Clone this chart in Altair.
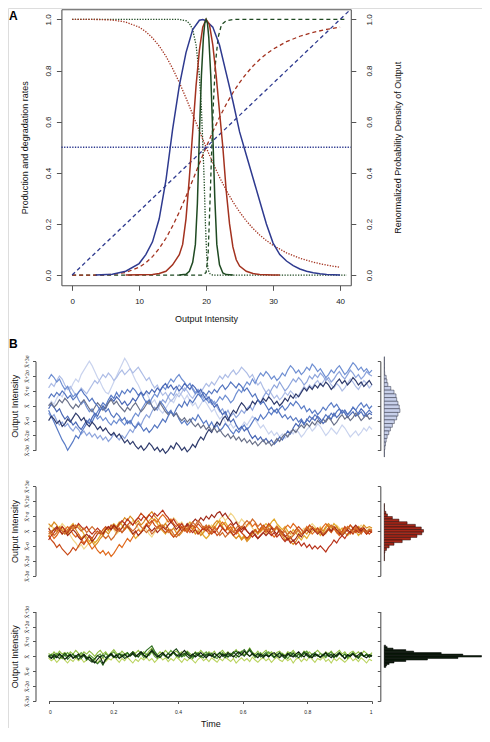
import json
import altair as alt
import numpy as np
import pandas as pd

W, H = 474, 720
SANS = "Liberation Sans"
SERIF = "Liberation Serif"
FRAME = "#555555"

# ---------------- Panel A : rate curves (dotted = degradation, dashed = production) ----------------
RDOT_X = [0, 2, 4, 6, 8, 10, 11, 12, 13, 14, 15, 16, 17, 18, 19, 20, 21, 22, 23, 24, 25, 26, 27, 28, 29, 30, 32, 34, 36, 38, 40]
RDOT_Y = [1.0, 1.0, 0.9997, 0.9976, 0.9899, 0.9697, 0.9521, 0.9278, 0.896, 0.8561, 0.8082, 0.7532, 0.6927, 0.6287,
          0.5638, 0.5, 0.4393, 0.383, 0.3321, 0.2867, 0.2468, 0.2122, 0.1824, 0.1568, 0.135, 0.1164, 0.0871, 0.0658,
          0.0503, 0.0388, 0.0303]
RDASH_X = RDOT_X
RDASH_Y = [0.0, 0.0, 0.0003, 0.0024, 0.0101, 0.0303, 0.0479, 0.0722, 0.104, 0.1439, 0.1918, 0.2468, 0.3073, 0.3713,
           0.4362, 0.5, 0.5607, 0.617, 0.6679, 0.7133, 0.7532, 0.7878, 0.8176, 0.8432, 0.865, 0.8836, 0.9129, 0.9342,
           0.9497, 0.9612, 0.9697]
GDOT_X = [0, 16, 17, 17.5, 18, 18.5, 19, 19.3, 19.5, 19.7, 19.9, 20.1, 20.3, 20.6, 21, 41]
GDOT_Y = [1, 1, 0.995, 0.985, 0.96, 0.9, 0.78, 0.65, 0.52, 0.38, 0.2, 0.07, 0.02, 0.005, 0, 0]
GDASH_X = [0, 19.5, 20, 20.3, 20.6, 20.85, 21.1, 21.4, 21.8, 22.3, 23, 24, 41]
GDASH_Y = [0, 0, 0.01, 0.08, 0.3, 0.5, 0.68, 0.83, 0.93, 0.98, 0.995, 1, 1]
BDOT_X = [-1.6, 41.6]
BDOT_Y = [0.5, 0.5]
BDASH_X = [0, 41.6]
BDASH_Y = [0, 1.04]

# ---------------- Panel A : renormalized output densities (solid) ----------------
DB_X = [3.5, 6, 8, 10, 11, 12, 13, 14, 15, 16, 17, 18, 19, 19.5, 20, 21, 22, 23, 24, 25, 26, 27, 28, 29, 30, 31,
        32, 33, 34, 35, 36, 37, 38, 40]
DB_Y = [0, 0.003, 0.015, 0.045, 0.08, 0.13, 0.22, 0.37, 0.57, 0.74, 0.87, 0.96, 0.997, 1.0, 0.995, 0.97, 0.9, 0.79,
        0.68, 0.56, 0.47, 0.38, 0.29, 0.2, 0.125, 0.08, 0.055, 0.037, 0.024, 0.015, 0.009, 0.005, 0.002, 0]
DR_X = [8, 12, 13, 14, 15, 16, 16.5, 17, 17.5, 18, 18.5, 19, 19.5, 20, 20.5, 21, 21.5, 22, 22.5, 23, 23.5, 24, 24.5,
        25, 26, 27, 28, 30, 31]
DR_Y = [0, 0.002, 0.006, 0.015, 0.04, 0.08, 0.12, 0.22, 0.38, 0.56, 0.74, 0.88, 0.97, 1.0, 0.98, 0.9, 0.78, 0.64,
        0.5, 0.33, 0.2, 0.11, 0.06, 0.035, 0.015, 0.006, 0.002, 0.0005, 0]
DG_X = [16, 17, 17.5, 18, 18.4, 18.7, 19, 19.3, 19.6, 19.8, 20, 20.2, 20.4, 20.7, 21, 21.3, 21.6, 22, 22.5, 23, 24]
DG_Y = [0, 0.003, 0.015, 0.05, 0.12, 0.28, 0.55, 0.78, 0.93, 0.985, 1.0, 0.985, 0.93, 0.78, 0.55, 0.3, 0.12, 0.04,
        0.008, 0.002, 0]

A_TICKS_X = [0, 10, 20, 30, 40]
A_TICKS_Y = [0, 0.2, 0.4, 0.6, 0.8, 1.0]

# ---------------- Panel B1 trajectories (tenths of sigma) ----------------
B1_T1 = [0, 3, 1, 5, 8, 6, 10, 13, 11, 15, 18, 16, 21, 24, 27, 30, 27, 23, 19, 16,
         12, 9, 8, 12, 16, 20, 24, 28, 32, 29, 25, 21, 17, 14, 10, 7, 9, 5, 2, 4,
         0, -3, -5, -2, 1, 4, 2, 6, 9, 7, 4, 7, 3, 0, 2, -2, 1, 4, 2, -1,
         -4, -2, -6, -9, -7, -11, -14, -12, -15, -13, -16, -14, -11, -13, -10, -7, -9, -12, -15, -13,
         -16, -19, -17, -20, -18, -21, -19, -22, -20, -17, -19, -16, -18, -21, -19, -16, -14, -17, -15, -12,
         -14, -17, -20, -18, -15, -17, -19, -16, -13, -15, -18, -21, -19, -17, -20, -18, -15, -17, -14, -16]
B1_T2 = [12, 15, 13, 17, 20, 18, 14, 11, 13, 10, 7, 9, 12, 10, 8, 11, 14, 17, 15, 18,
         21, 19, 22, 20, 17, 19, 22, 24, 21, 23, 25, 22, 24, 26, 23, 20, 17, 19, 15, 12,
         14, 10, 7, 9, 6, 3, 5, 8, 6, 9, 12, 10, 7, 5, 8, 11, 9, 12, 15, 13,
         16, 14, 17, 20, 18, 21, 19, 22, 24, 21, 23, 26, 24, 22, 19, 21, 17, 14, 16, 12,
         9, 11, 8, 5, 7, 4, 6, 9, 7, 10, 8, 5, 7, 10, 13, 11, 14, 12, 15, 17,
         14, 16, 19, 17, 14, 12, 15, 13, 10, 12, 15, 18, 16, 13, 11, 14, 17, 15, 12, 14]
B1_T3 = [-5, -8, -6, -10, -13, -11, -14, -12, -15, -17, -14, -16, -19, -17, -20, -18, -21, -19, -22, -20,
         -23, -21, -24, -22, -19, -21, -23, -20, -22, -19, -16, -18, -14, -11, -13, -9, -6, -8, -4, -1,
         -3, 1, 4, 2, 6, 9, 7, 11, 14, 12, 10, 13, 15, 12, 9, 11, 8, 5, 7, 4,
         1, 3, -1, -4, -2, -6, -3, -7, -5, -8, -6, -3, -5, -2, 0, -3, 1, 4, 2, 6,
         9, 7, 11, 14, 12, 16, 13, 10, 12, 15, 18, 16, 19, 17, 14, 16, 20, 18, 21, 19,
         22, 20, 17, 19, 16, 18, 21, 23, 20, 18, 21, 24, 22, 19, 21, 18, 20, 23, 21, 20]
B1_T4 = [18, 21, 19, 16, 18, 14, 11, 13, 9, 6, 8, 4, 1, 3, -1, -4, -2, -6, -9, -7,
         -10, -8, -11, -13, -10, -12, -9, -11, -13, -10, -12, -8, -5, -7, -3, 0, 3, 1, 5, 8,
         6, 10, 13, 11, 15, 18, 16, 19, 21, 18, 16, 13, 15, 11, 8, 10, 6, 3, 5, 2,
         4, 1, 3, 6, 4, 7, 5, 2, 4, 8, 11, 9, 13, 16, 14, 18, 15, 19, 22, 20,
         23, 21, 18, 20, 17, 19, 22, 20, 24, 27, 25, 22, 24, 21, 23, 26, 24, 28, 26, 23,
         25, 22, 19, 21, 24, 22, 25, 27, 24, 21, 23, 26, 29, 27, 24, 26, 23, 25, 22, 24]
B1_T5 = [-3, -7, -11, -15, -19, -23, -26, -30, -27, -24, -20, -22, -18, -15, -12, -9, -11, -7, -4, -1,
         2, 0, 4, 7, 5, 9, 6, 10, 8, 11, 9, 12, 10, 7, 9, 5, 2, 4, 0, -3,
         -1, 3, 1, -2, -5, -3, -7, -5, -9, -12, -10, -13, -11, -8, -10, -6, -9, -12, -10, -14,
         -11, -15, -13, -17, -15, -12, -14, -17, -19, -16, -18, -15, -13, -16, -14, -11, -8, -10, -6, -9,
         -7, -4, -6, -3, -5, -2, 0, -3, -1, 2, 0, 3, 1, -2, 0, -4, -2, -5, -3, -6,
         -4, -1, -3, 0, 2, -1, 1, -2, -5, -3, -6, -4, -1, -3, 0, 2, -1, 1, -2, 0]
B1_T6 = [-2, 1, -1, -4, -2, -6, -9, -7, -10, -13, -11, -14, -16, -13, -10, -12, -8, -5, -7, -3,
         0, -2, 2, 5, 3, 6, 4, 1, 3, 0, 2, 5, 3, 6, 9, 7, 10, 8, 11, 9,
         12, 10, 13, 15, 12, 14, 11, 13, 10, 12, 15, 13, 11, 14, 12, 9, 11, 7, 4, 6,
         2, -1, 1, -3, -6, -4, -8, -11, -9, -13, -16, -14, -17, -15, -19, -22, -20, -23, -21, -24,
         -22, -25, -23, -26, -24, -21, -23, -20, -17, -19, -15, -12, -14, -10, -13, -9, -11, -8, -10, -7,
         -9, -12, -10, -7, -9, -5, -8, -6, -3, -5, -8, -6, -4, -7, -5, -2, -4, -7, -5, -6]
B1_T7 = [-10, -7, -9, -12, -10, -14, -12, -9, -11, -8, -5, -7, -10, -8, -12, -14, -11, -13, -16, -14,
         -17, -15, -18, -20, -18, -21, -19, -22, -25, -23, -26, -24, -27, -29, -27, -30, -28, -25, -27, -30,
         -28, -31, -29, -32, -30, -27, -29, -25, -27, -30, -28, -31, -29, -26, -28, -24, -21, -23, -19, -16,
         -18, -14, -11, -13, -9, -7, -10, -6, -3, -5, -1, 2, 0, -3, -1, 3, 1, 4, 2, 5,
         3, 6, 4, 1, 3, 0, 2, 5, 3, 7, 5, 8, 6, 9, 12, 10, 13, 11, 14, 12,
         15, 13, 16, 14, 11, 13, 16, 18, 15, 17, 14, 16, 19, 17, 14, 16, 13, 15, 17, 14]
B1_T8 = [0, 2, -1, 1, 4, 2, 5, 3, 0, -2, 1, -1, 2, 4, 1, -2, -4, -1, 2, 0,
         -3, -1, 2, 4, 1, 3, 0, -2, -4, -1, -3, 0, 2, -1, -4, -2, 1, 3, 0, -3,
         -1, 2, -1, -4, -6, -4, -7, -5, -8, -10, -8, -11, -9, -12, -14, -12, -15, -13, -16, -14,
         -17, -15, -18, -16, -19, -21, -19, -22, -20, -23, -21, -24, -22, -25, -23, -26, -24, -27, -25, -23,
         -26, -24, -27, -25, -22, -24, -21, -19, -21, -18, -16, -18, -15, -13, -15, -12, -14, -11, -13, -10,
         -12, -9, -11, -8, -10, -13, -11, -8, -6, -9, -7, -10, -8, -5, -7, -10, -8, -6, -9, -8]
B1_T9 = [5, 8, 6, 9, 7, 10, 8, 5, 7, 4, 6, 9, 11, 8, 6, 3, 5, 2, 0, -3,
         -1, -4, -2, -6, -8, -5, -7, -10, -8, -12, -10, -13, -15, -12, -14, -17, -15, -18, -16, -13,
         -15, -12, -9, -11, -7, -4, -6, -2, 1, -1, 3, 0, 4, 2, 5, 8, 6, 9, 7, 10,
         8, 11, 9, 12, 14, 11, 13, 16, 14, 12, 15, 13, 10, 12, 9, 6, 8, 4, 1, 3,
         0, -3, -1, -4, -2, -5, -8, -6, -9, -7, -10, -8, -11, -9, -12, -10, -7, -9, -6, -8,
         -11, -9, -6, -8, -5, -7, -4, -2, -5, -3, -6, -4, -1, -3, -6, -4, -7, -5, -3, -5]

# ---------------- Panel B2 trajectories (tenths of sigma) ----------------
B2_T1 = [2, 4, 1, -1, 2, 5, 3, 0, -3, -6, -8, -11, -9, -12, -10, -7, -5, -8, -6, -3,
         -1, 2, 0, 3, 1, -2, 0, 3, 5, 2, 4, 7, 5, 2, 0, 3, 1, -2, -4, -1,
         1, 4, 2, 5, 8, 6, 9, 7, 4, 6, 3, 1, 4, 2, -1, 1, -2, 0, 3, 1,
         4, 2, 5, 8, 10, 7, 9, 12, 10, 7, 5, 8, 6, 3, 5, 2, 0, 2, -1, 1,
         -2, 0, 3, 1, 4, 2, -1, 1, -2, -4, -1, 1, -2, 0, 2, 0, 3, 5, 3, 1,
         3, 0, -2, 1, -1, 2, 4, 2, -1, 1, 3, 1, -2, 0, 2, 4, 2, 0, 2, 1]
B2_T2 = [-4, -1, 2, 0, 3, 1, -2, 0, 3, 5, 2, 4, 1, -2, -4, -7, -5, -8, -6, -3,
         -1, 2, 0, 3, 5, 3, 6, 4, 1, 3, 0, -2, -5, -3, -1, 2, 4, 7, 9, 7,
         5, 2, 0, -2, 1, -1, -4, -2, 1, 3, 1, 4, 6, 3, 1, -2, 0, -3, -5, -3,
         0, 2, 5, 7, 4, 6, 3, 1, 3, 0, -2, -5, -3, -6, -4, -1, 1, -2, 0, 3,
         5, 3, 6, 8, 5, 3, 1, 3, 0, -2, 1, -1, -4, -6, -3, -5, -2, 0, 2, 0,
         -3, -1, 2, 4, 2, 5, 3, 0, 2, -1, -3, -1, 2, 0, -3, -1, 1, -2, 0, -1]
B2_T3 = [5, 3, 6, 4, 1, 3, 0, -2, 1, 3, 1, -2, -5, -3, -6, -9, -7, -10, -8, -5,
         -3, 0, -2, 1, 3, 1, 4, 6, 9, 7, 10, 8, 5, 7, 4, 6, 9, 11, 13, 10,
         8, 5, 3, 5, 2, 0, 2, -1, -3, -1, 2, 0, 3, 1, -2, 0, -3, -1, 2, 4,
         2, 5, 7, 5, 3, 0, 2, -1, -3, -5, -3, -6, -4, -7, -5, -2, 0, -2, 1, 3,
         1, 4, 2, 0, 2, -1, -3, -6, -4, -7, -9, -7, -4, -2, 0, -2, 1, 3, 1, -1,
         2, 0, 3, 5, 3, 1, 3, 0, -2, 0, 2, 4, 2, 0, 3, 1, 4, 2, 3, 2]
B2_T4 = [0, -2, -5, -3, 0, -2, 1, 3, 1, -2, -4, -2, -5, -8, -6, -9, -12, -10, -13, -15,
         -13, -16, -14, -17, -15, -12, -9, -11, -8, -5, -7, -4, -1, 1, -1, 2, 5, 3, 6, 8,
         6, 9, 11, 9, 6, 8, 5, 3, 5, 2, 0, 2, -1, 1, 4, 2, 0, 3, 1, -2,
         0, 3, 1, 4, 6, 4, 1, 3, 0, -2, 0, 3, 1, 4, 6, 3, 5, 2, 0, 2,
         -1, 1, -2, -4, -2, 1, -1, 2, 4, 2, 5, 3, 0, -2, 0, 3, 1, -2, 0, 2,
         0, 3, 5, 3, 0, 2, -1, -3, -1, 2, 0, -2, 1, 3, 1, -1, 1, -2, 0, 1]
B2_T5 = [-3, -6, -8, -11, -9, -12, -14, -16, -14, -11, -13, -10, -7, -9, -6, -3, -5, -2, 0, -2,
         1, 3, 1, 4, 2, 0, 2, -1, 1, 4, 6, 4, 7, 9, 12, 10, 8, 5, 7, 4,
         2, 4, 1, -1, 1, -2, -4, -2, 0, 3, 1, -1, 2, 4, 2, 5, 3, 1, 3, 0,
         -2, 0, -3, -1, 2, 0, 3, 5, 3, 0, 2, -1, -3, -5, -3, -1, 1, -1, 2, 4,
         2, 5, 3, 1, 3, 0, -2, -4, -2, 0, -2, 1, 3, 1, -1, 1, 4, 2, 0, 2,
         -1, -3, -1, 1, -1, 2, 0, -2, 0, 3, 1, 4, 2, -1, 1, -1, 2, 0, -2, 0]
B2_T6 = [-6, -3, -1, 2, 0, 3, 1, -1, 2, 4, 2, 5, 3, 1, 3, 0, -2, 0, 2, 0,
         -2, 1, 3, 1, 4, 2, 5, 7, 5, 8, 6, 4, 7, 9, 7, 10, 8, 11, 9, 12,
         10, 12, 14, 11, 9, 6, 8, 5, 3, 5, 2, 4, 1, -1, 1, -2, 0, 2, 0, 3,
         1, -1, 1, 4, 2, 0, -2, 0, -3, -1, 1, -1, 2, 0, -2, -4, -2, -5, -3, -1,
         1, -1, -3, -1, -4, -2, -5, -7, -5, -8, -6, -9, -7, -10, -8, -11, -9, -12, -10, -12,
         -10, -12, -14, -11, -9, -6, -8, -5, -3, -5, -2, 0, -2, 1, -1, 2, 0, -2, 0, -1]
B2_T7 = [2, -1, 1, 3, 1, -2, 0, -3, -1, 1, -1, -4, -6, -4, -2, -4, -7, -5, -2, 0,
         -2, 1, 3, 1, 4, 2, 0, 2, 5, 3, 1, -2, 0, -3, -1, 1, 4, 2, 0, 2,
         -1, 1, 3, 1, 4, 6, 4, 1, 3, 0, 2, 5, 3, 6, 8, 6, 9, 7, 10, 8,
         11, 9, 12, 13, 10, 12, 9, 7, 4, 6, 3, 1, 3, 0, -2, 0, -3, -5, -3, -1,
         -3, -1, 2, 0, -2, 1, -1, -3, -6, -4, -7, -5, -2, -4, -1, 1, -1, 2, 0, -2,
         0, -3, -1, 2, 0, 3, 1, -1, -3, -1, 1, -1, 2, 4, 2, 0, 2, -1, 1, 0]
B2_T8 = [-2, 0, -3, -1, 2, 0, -2, 1, 3, 1, 4, 2, 0, 2, -1, 1, 3, 1, -2, 0,
         -3, -5, -3, -6, -4, -1, 1, -1, 2, 4, 2, 0, 2, 5, 3, 1, -1, 1, -2, 0,
         3, 1, 4, 2, -1, 1, -2, -4, -2, 0, 3, 1, 4, 6, 4, 7, 5, 2, 4, 1,
         -1, 2, 0, -3, -1, -4, -2, 1, -1, 2, 4, 2, 5, 7, 5, 8, 6, 3, 5, 2,
         0, 2, -1, 1, 3, 1, -2, 0, -3, -5, -3, -1, 1, -2, 0, 2, 0, 3, 1, -1,
         1, -2, 0, 2, 4, 2, -1, 1, -2, 0, 3, 1, -1, 2, 0, -2, 1, -1, 1, 0]

# ---------------- Panel B3 trajectories (hundredths of sigma) ----------------
B3_T1 = [-10, -30, -15, -40, -20, -5, -25, -45, -20, -35, -10, -30, -15, -40, -25, -5, -30, -15, -45, -20,
         -10, -35, -15, -25, 0, -20, -40, -15, -30, -5, -25, -45, -20, -35, -10, -25, -5, -30, -15, -40,
         -20, 0, -25, -10, -35, -15, -30, -5, -20, -40, -15, -30, -10, -25, -45, -20, -5, -30, -15, -35,
         -10, -25, -40, -15, -30, -5, -20, -35, -15, -45, -25, -10, -30, -15, -35, -5, -25, -40, -20, -10,
         -30, -15, -40, -20, -5, -25, -35, -10, -30, -15, -45, -20, -10, -35, -15, -30, 0, -20, -40, -15,
         -25, -5, -35, -20, -45, -15, -30, -10, -25, -40, -20, -5, -30, -15, -35, -10, -25, -45, -20, -30]
B3_T2 = [20, 5, 30, 10, 35, 15, 25, 0, 30, 15, 40, 20, 5, 30, 15, 35, 20, 0, 25, 40,
         15, 30, 5, 25, 45, 20, 10, 35, 15, 25, 5, 30, 20, 40, 15, 30, 10, 35, 55, 25,
         10, 30, 15, 40, 20, 5, 25, 35, 15, 30, 10, 35, 20, 5, 30, 15, 40, 20, 10, 30,
         15, 35, 5, 25, 40, 15, 30, 10, 25, 45, 20, 35, 10, 30, 55, 25, 15, 35, 5, 25,
         40, 15, 30, 10, 25, 35, 15, 5, 30, 20, 40, 15, 25, 5, 35, 20, 30, 10, 25, 40,
         20, 5, 30, 15, 35, 10, 25, 40, 15, 30, 5, 25, 35, 15, 30, 10, 35, 20, 5, 25]
B3_T3 = [0, 15, -10, 20, 5, -15, 10, 25, 0, 15, -10, 5, 25, 5, -15, 10, -5, -20, 5, 15,
         -10, 20, 0, 15, 30, 5, -10, 15, 0, 20, 5, 30, 10, -5, 20, -10, 15, 5, 30, 0,
         -15, 10, 25, 0, 15, 40, 20, 5, -10, 15, 0, 20, 5, -15, 10, 25, 0, 15, 30, 5,
         20, -5, -15, 10, 25, 5, -5, 20, 5, -10, 15, 30, 5, 20, 0, 15, -10, 5, 25, 0,
         15, 30, 5, -10, 15, 0, 20, 5, -15, 10, 25, 0, 15, -5, 20, 35, 10, -5, 15, 0,
         20, 5, -10, 15, 30, 5, -5, 20, 0, 15, -15, 10, 25, 5, -5, 20, 0, 15, 5, 10]
B3_T4 = [-5, 10, -15, 5, 20, -5, 10, -20, 0, 15, -10, 5, -15, 5, -25, -5, -20, -35, -50, -30,
         -60, -25, -5, 10, -10, 5, 20, -5, 10, 25, 0, 15, -5, 10, 30, 15, 40, 55, 70, 35,
         10, -5, 15, 0, -15, 10, 25, 0, 15, -5, 10, 30, 10, -5, 5, 20, 0, -10, 15, 5,
         20, -5, 10, 25, 5, -10, 15, 0, 20, 35, 15, 30, 45, 20, 50, 25, 5, 15, -5, 10,
         25, 0, 15, -10, 5, 20, 0, -15, 10, 25, 5, -5, 15, 0, 20, 5, -10, 10, 25, 5,
         -5, 15, 0, 20, 5, -10, 10, 25, 0, 15, -5, 10, 20, 0, -15, 10, 0, 15, -5, 5]
B3_T5 = [10, -10, 15, 0, -15, 5, 20, 0, 15, -10, 5, -20, 0, 15, -5, -25, -40, -15, 5, -5,
         10, -10, 5, 20, 0, -10, 15, 5, -15, 0, 15, 30, 10, -5, 20, 5, -10, 15, 45, 20,
         5, -10, 15, 0, 20, 5, 35, 50, 25, 5, 20, 0, -15, 10, 25, 5, -5, 15, 0, 20,
         5, -10, 10, 25, 0, 15, -5, 10, 30, 10, -5, 15, 0, 25, 40, 15, 0, 20, 5, -10,
         10, 0, 15, -5, 10, 25, 5, -10, 15, 0, 20, 5, -10, 10, 30, 10, -5, 15, 0, 10,
         -10, 5, 20, 0, 15, -5, 10, 25, 5, -15, 10, 0, 20, 5, -10, 15, 0, 10, -5, 5]
B3_T6 = [0, -15, 5, -10, 15, 0, -20, -5, 10, -15, 0, 15, -5, 10, -15, -5, -30, -45, -20, 0,
         -50, -20, 0, 15, -5, 10, -15, 0, 15, -5, 5, 20, 0, 15, 30, 10, -5, 20, 35, 15,
         -5, 10, 25, 5, -10, 15, 30, 10, 0, 20, 40, 15, 0, 15, -5, 10, 25, 5, -10, 10,
         0, 20, 5, -10, 15, 0, 25, 10, -5, 15, 30, 10, 35, 15, 0, 20, 5, -10, 15, 0,
         10, -5, 15, 25, 5, -10, 10, 0, 20, 5, -5, 15, 30, 10, -5, 20, 0, -10, 15, 5,
         -5, 10, 25, 5, -10, 15, 0, 20, 5, -15, 10, 0, 15, -5, 10, 25, 0, -10, 10, 0]

# ---------------- Panel B : histograms (bar lengths, top bin first) ----------------
B1_HIST = [0.3, 0.3, 0.3, 0.3, 0.5, 2, 2.7, 3.7, 6.7, 10, 12, 12.7, 14, 15.3, 16, 14, 12.7, 10.3, 8.3, 6.3, 4.7, 3, 2, 1.3, 0.7, 0.3, 0.3]
B1_HIST_TOP, B1_HIST_BIN = 3.30, 0.25
B2_HIST = [0.3, 0.3, 0.3, 1.7, 3.3, 8.3, 15, 23.3, 31.7, 37.7, 40, 38.3, 33.3, 26.7, 18.3, 10, 5, 2.3, 0.7, 0.3, 0.3, 0.3]
B2_HIST_TOP, B2_HIST_BIN = 1.85, 0.175
B3_HIST = [1.5, 3, 9, 22, 30, 58, 80, 99, 75, 44, 22, 10, 5, 2.5, 1.5]
B3_HIST_TOP, B3_HIST_BIN = 0.75, 0.1

SIGMA_TICKS = [-3, -2, -1, 0, 1, 2, 3]
SIGMA_LABELS = ["X\u0304-3\u03c3", "X\u0304-2\u03c3", "X\u0304-\u03c3", "X\u0304", "X\u0304+\u03c3", "X\u0304+2\u03c3", "X\u0304+3\u03c3"]
TIME_TICKS = [0, 0.2, 0.4, 0.6, 0.8, 1]

# ---------------- styles ----------------
A_BLUE, A_RED, A_GREEN = "#2e3a8f", "#a3321f", "#1f4a22"
RATE_NAMES = ["green dotted", "green dashed", "red dotted", "red dashed", "blue dotted", "blue dashed"]
RATE_COLORS = [A_GREEN, A_GREEN, A_RED, A_RED, A_BLUE, A_BLUE]
DOT, DASH = [1.3, 1.4], [4, 3]
RATE_DASH = [DOT, DASH, DOT, DASH, DOT, DASH]
DENS_NAMES = ["blue", "red", "green"]
DENS_COLORS = [A_BLUE, A_RED, A_GREEN]

B1_NAMES = ["b1", "b2", "b3", "b4", "b5", "b6", "b7", "b8", "b9"]
B1_COLORS = ["#c9d3ee", "#aebde6", "#8ea5dc", "#6f8fd2", "#5a7cc6", "#4b69b6", "#2f3b6c", "#6a7189", "#5576c0"]
B2_NAMES = ["o1", "o2", "o3", "o4", "o5", "o6", "o7", "o8"]
B2_COLORS = ["#f2d588", "#e2a92c", "#d98a1e", "#e0691c", "#c94a18", "#b8321a", "#a02a18", "#cf6a2a"]
B3_NAMES = ["g1", "g2", "g3", "g4", "g5", "g6"]
B3_COLORS = ["#b9d35e", "#8fbd3e", "#5e9e32", "#2f6e22", "#1e4a18", "#0c1f0c"]

# pixel geometry of the panels inside the W x H drawing area
XA_RANGE, YA_RANGE = [53.4, 342.8], [277.3, 1.2]
XA_DOMAIN, YA_DOMAIN = [-1.6, 41.6], [-0.04, 1.04]
T_RANGE = [40.6, 364.0]
B_YRANGES = [[442.3, 353.2], [567.8, 478.3], [693.0, 603.6]]
B_AXIS_X = 27.5
HIST_AXIS_X = 372.3
HIST_RANGE = [376.2, 474.5]


def sc(domain, rng):
    return alt.Scale(domain=domain, range=rng, nice=False, zero=False)


def line_df(series):
    rows = []
    for name, xs, ys in series:
        for x, y in zip(xs, ys):
            rows.append({"x": x, "y": y, "s": name})
    return pd.DataFrame(rows)


def ts_df(names, traces, unit):
    rows = []
    for name, vals in zip(names, traces):
        n = len(vals)
        for i, v in enumerate(vals):
            rows.append({"t": i / (n - 1), "v": v / unit, "trace": name})
    return pd.DataFrame(rows)


def hist_df(counts, top, width):
    rows = []
    for i, c in enumerate(counts):
        hi = top - i * width
        rows.append({"count": c, "hi": hi, "lo": hi - width})
    return pd.DataFrame(rows)


AX = dict(grid=False, domainColor=FRAME, tickColor=FRAME, labelColor="#222222", titleColor="#111111",
          labelFont=SANS, titleFont=SANS, titleFontWeight="normal", domainWidth=1.1, tickWidth=1)

rates_df = line_df([
    ("green dotted", GDOT_X, GDOT_Y), ("green dashed", GDASH_X, GDASH_Y),
    ("red dotted", RDOT_X, RDOT_Y), ("red dashed", RDASH_X, RDASH_Y),
    ("blue dotted", BDOT_X, BDOT_Y), ("blue dashed", BDASH_X, BDASH_Y),
])
dens_df = line_df([("blue", DB_X, DB_Y), ("red", DR_X, DR_Y), ("green", DG_X, DG_Y)])

rates = alt.Chart(rates_df).mark_line(strokeWidth=1.3).encode(
    x=alt.X("x:Q", scale=sc(XA_DOMAIN, XA_RANGE),
            axis=alt.Axis(orient="bottom", offset=YA_RANGE[0] - H, values=A_TICKS_X, format="d", tickSize=5,
                          labelFontSize=8, labelPadding=7, title="Output Intensity", titleFontSize=9,
                          titlePadding=9, **AX)),
    y=alt.Y("y:Q", scale=sc(YA_DOMAIN, YA_RANGE),
            axis=alt.Axis(orient="left", offset=-XA_RANGE[0], values=A_TICKS_Y, format=".1f", tickSize=5,
                          labelAngle=270, labelFontSize=8, labelPadding=4,
                          title="Production and degradation rates", titleFontSize=9, titlePadding=15, **AX)),
    color=alt.Color("s:N", scale=alt.Scale(domain=RATE_NAMES, range=RATE_COLORS), legend=None),
    strokeDash=alt.StrokeDash("s:N", scale=alt.Scale(domain=RATE_NAMES, range=RATE_DASH), legend=None),
)

dens = alt.Chart(dens_df).mark_line(strokeWidth=1.5).encode(
    x=alt.X("x:Q", scale=sc(XA_DOMAIN, XA_RANGE),
            axis=alt.Axis(orient="top", offset=-YA_RANGE[1], ticks=False, labels=False, title=None, **AX)),
    y=alt.Y("y:Q", scale=sc(YA_DOMAIN, YA_RANGE),
            axis=alt.Axis(orient="right", offset=XA_RANGE[1] - W, values=A_TICKS_Y, format=".1f", tickSize=5,
                          labelAngle=270, labelFontSize=8, labelPadding=10,
                          title="Renormalized Probability Density of Output", titleAngle=270,
                          titleBaseline="top", titleFontSize=9, titlePadding=20, **AX)),
    color=alt.Color("s:N", scale=alt.Scale(domain=DENS_NAMES, range=DENS_COLORS), legend=None),
)

label_expr = json.dumps(SIGMA_LABELS, ensure_ascii=False) + "[datum.value + 3]"


def ts_layer(df, names, colors, yr, show_time, width):
    AXB = dict(AX)
    AXB["labelFont"] = SERIF
    if show_time:
        xaxis = alt.Axis(orient="bottom", offset=yr[0] - H, values=TIME_TICKS, format="~g", tickSize=2.5,
                         labelFontSize=5, labelPadding=6, title="Time", titleFontSize=9, titlePadding=5,
                         **dict(AX))
    else:
        xaxis = None
    return alt.Chart(df).mark_line(strokeWidth=width).encode(
        x=alt.X("t:Q", scale=sc([0, 1], T_RANGE), axis=xaxis),
        y=alt.Y("v:Q", scale=sc([-3, 3], yr),
                axis=alt.Axis(orient="left", offset=-B_AXIS_X, values=SIGMA_TICKS, labelExpr=label_expr,
                              tickSize=3, labelAngle=270, labelFontSize=5.5, labelPadding=3,
                              title="Output Intensity", titleFontSize=9, titlePadding=5, **AXB)),
        color=alt.Color("trace:N", scale=alt.Scale(domain=names, range=colors), legend=None),
    )


def hist_layer(df, fill, stroke, yr):
    return alt.Chart(df).mark_rect(fill=fill, stroke=stroke, strokeWidth=0.5).encode(
        x=alt.X("count:Q", scale=sc([0, 100], HIST_RANGE), axis=None),
        x2=alt.X2(datum=0),
        y=alt.Y("lo:Q", scale=sc([-3, 3], yr),
                axis=alt.Axis(orient="left", offset=-HIST_AXIS_X, values=SIGMA_TICKS, labels=False, tickSize=3,
                              title=None, **AX)),
        y2="hi:Q",
    )


b1 = ts_layer(ts_df(B1_NAMES, [B1_T1, B1_T2, B1_T3, B1_T4, B1_T5, B1_T6, B1_T7, B1_T8, B1_T9], 10.0),
              B1_NAMES, B1_COLORS, B_YRANGES[0], False, 1.2)
b2 = ts_layer(ts_df(B2_NAMES, [B2_T1, B2_T2, B2_T3, B2_T4, B2_T5, B2_T6, B2_T7, B2_T8], 10.0),
              B2_NAMES, B2_COLORS, B_YRANGES[1], False, 1.2)
b3 = ts_layer(ts_df(B3_NAMES, [B3_T1, B3_T2, B3_T3, B3_T4, B3_T5, B3_T6], 100.0),
              B3_NAMES, B3_COLORS, B_YRANGES[2], True, 1.1)
h1 = hist_layer(hist_df(B1_HIST, B1_HIST_TOP, B1_HIST_BIN), "#c8d0ea", "#2a2f40", B_YRANGES[0])
h2 = hist_layer(hist_df(B2_HIST, B2_HIST_TOP, B2_HIST_BIN), "#a8281a", "#1a0806", B_YRANGES[1])
h3 = hist_layer(hist_df(B3_HIST, B3_HIST_TOP, B3_HIST_BIN), "#0f220f", "#000000", B_YRANGES[2])

lab_a = alt.Chart(pd.DataFrame({"lab": ["A"]})).mark_text(
    font=SANS, fontSize=12, fontWeight="bold", align="left", baseline="top", color="#000000"
).encode(text="lab:N", x=alt.value(1), y=alt.value(3))
lab_b = alt.Chart(pd.DataFrame({"lab": ["B"]})).mark_text(
    font=SANS, fontSize=12, fontWeight="bold", align="left", baseline="top", color="#000000"
).encode(text="lab:N", x=alt.value(1), y=alt.value(331))

chart = alt.layer(rates, dens, b1, h1, b2, h2, b3, h3, lab_a, lab_b).resolve_scale(
    x="independent", y="independent", color="independent", strokeDash="independent"
).resolve_axis(
    x="independent", y="independent"
).properties(
    width=W, height=H, padding=0, autosize=alt.AutoSizeParams(type="none")
).configure_view(strokeWidth=0, fill="white").configure(background="white")

chart.save("out.html", embed_options={"renderer": "svg", "actions": False})
